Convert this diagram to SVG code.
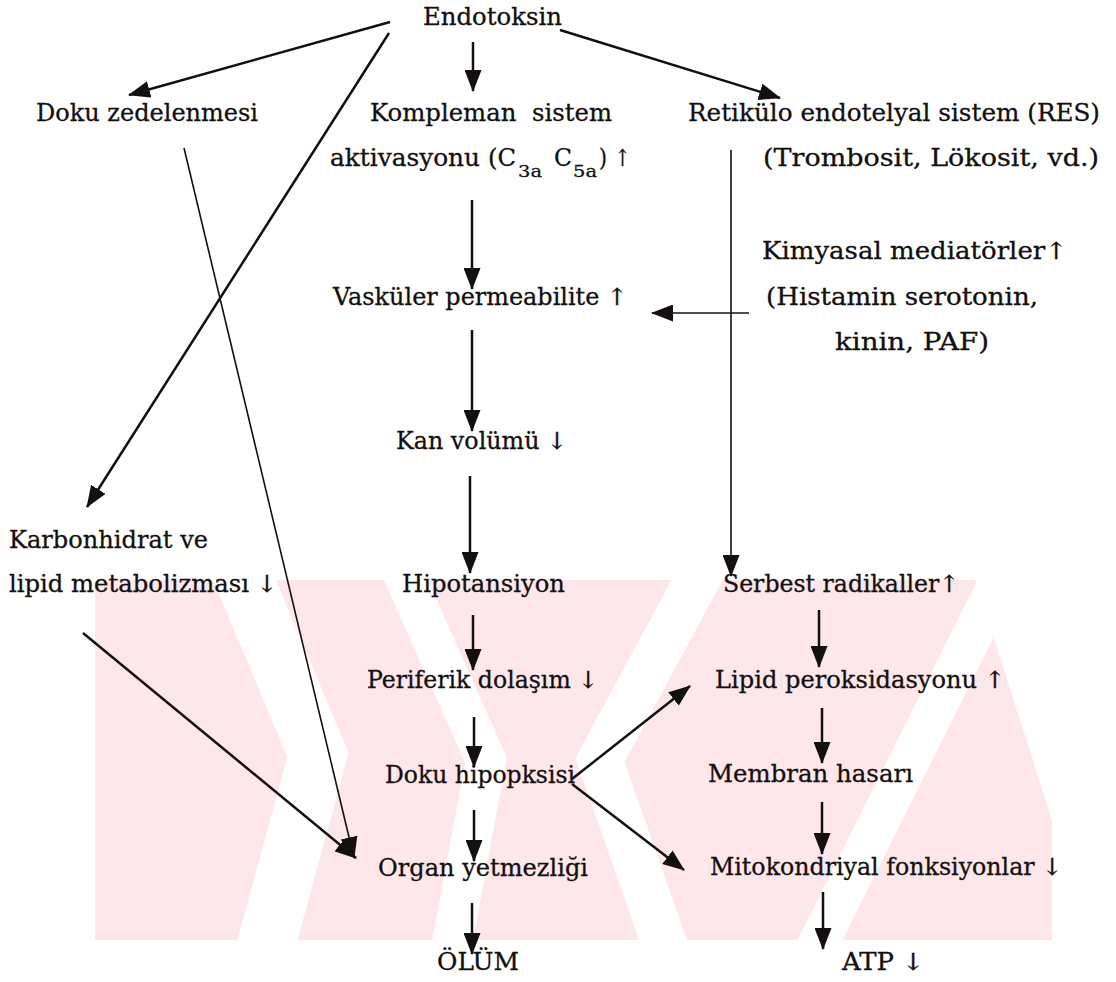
<svg xmlns="http://www.w3.org/2000/svg" width="1116" height="982" viewBox="0 0 1116 982">
<style>
  text { font-family: "DejaVu Serif", "Liberation Serif", serif; font-size: 23.5px; fill: #141010; stroke: #141010; stroke-width: 0.3; }
  .sub { font-size: 16px; }
  .c { stroke: #141010; stroke-width: 2.5; fill: none; marker-end: url(#ah); }
  .thin { stroke-width: 1.6; }
  .wm { fill: #fde7eb; }
  .wmw { stroke: #ffffff; fill: none; stroke-linejoin: miter; }
</style>
<defs>
  <marker id="ah" viewBox="0 0 22 17" refX="21" refY="8.5" markerWidth="22" markerHeight="17" markerUnits="userSpaceOnUse" orient="auto">
    <path d="M0,0 L22,8.5 L0,17 z" fill="#141010"/>
  </marker>
  <clipPath id="wmclip">
    <polygon points="95,580 975,580 1052,820 1052,940 95,940"/>
  </clipPath>
</defs>
<rect width="1116" height="982" fill="#ffffff"/>
<g id="watermark" clip-path="url(#wmclip)">
  <rect class="wm" x="95" y="580" width="960" height="360"/>
  <polyline class="wmw" stroke-width="58" points="236,560 318,755 262,960"/>
  <polyline class="wmw" stroke-width="40" points="397,560 486,760 449,960"/>
  <polyline class="wmw" stroke-width="45" points="708,560 600,760 670,960"/>
  <line class="wmw" stroke-width="40" x1="810" y1="960" x2="1010" y2="560"/>
</g>
<g id="connectors">
  <path class="c" d="M390,22 L129,95"/>
  <path class="c" d="M473,42 L473,91"/>
  <path class="c" d="M560,30 L780,98"/>
  <path class="c" d="M389,33 L87,507"/>
  <path class="c thin" d="M184,148 L354,858"/>
  <path class="c" d="M83,633 L356,858"/>
  <path class="c" d="M472,200 L472,289"/>
  <path class="c" d="M472,330 L472,431"/>
  <path class="c" d="M470,476 L470,573"/>
  <path class="c" d="M473,615 L473,670"/>
  <path class="c" d="M474,717 L474,767"/>
  <path class="c" d="M474,810 L474,861"/>
  <path class="c" d="M472,903 L472,954"/>
  <path class="c thin" d="M731,150 L731,576"/>
  <path class="c thin" d="M749,313 L652,313"/>
  <path class="c" d="M819,610 L819,667"/>
  <path class="c" d="M822,708 L822,763"/>
  <path class="c" d="M822,802 L822,854"/>
  <path class="c" d="M823,892 L823,949"/>
  <path class="c" d="M572,779 L690,686"/>
  <path class="c" d="M572,784 L684,870"/>
</g>
<g id="n-endotoksin"><text x="423" y="25" textLength="139" lengthAdjust="spacingAndGlyphs">Endotoksin</text></g>
<g id="n-doku-zedelenmesi"><text x="36" y="121" textLength="222" lengthAdjust="spacingAndGlyphs">Doku zedelenmesi</text></g>
<g id="n-kompleman">
  <text x="370" y="121" textLength="242" lengthAdjust="spacingAndGlyphs" xml:space="preserve">Kompleman  sistem</text>
  <text x="330" y="166" textLength="150" lengthAdjust="spacingAndGlyphs">aktivasyonu</text>
  <text x="488" y="166" textLength="28" lengthAdjust="spacingAndGlyphs">(C</text>
  <text class="sub" x="518" y="177" textLength="24" lengthAdjust="spacingAndGlyphs">3a</text>
  <text x="554" y="166" textLength="18" lengthAdjust="spacingAndGlyphs">C</text>
  <text class="sub" x="573" y="177" textLength="24" lengthAdjust="spacingAndGlyphs">5a</text>
  <text x="599" y="166" textLength="8" lengthAdjust="spacingAndGlyphs">)</text>
  <text x="615" y="166" textLength="15" lengthAdjust="spacingAndGlyphs">↑</text>
</g>
<g id="n-res">
  <text x="688" y="121" textLength="412" lengthAdjust="spacingAndGlyphs">Retikülo endotelyal sistem (RES)</text>
  <text x="763" y="166" textLength="336" lengthAdjust="spacingAndGlyphs">(Trombosit, Lökosit, vd.)</text>
</g>
<g id="n-kimyasal">
  <text x="762" y="259" textLength="305" lengthAdjust="spacingAndGlyphs">Kimyasal mediatörler↑</text>
  <text x="766" y="305" textLength="272" lengthAdjust="spacingAndGlyphs">(Histamin serotonin,</text>
  <text x="835" y="350" textLength="154" lengthAdjust="spacingAndGlyphs">kinin, PAF)</text>
</g>
<g id="n-vaskuler"><text x="333" y="305" textLength="294" lengthAdjust="spacingAndGlyphs">Vasküler permeabilite ↑</text></g>
<g id="n-kan"><text x="396" y="449" textLength="171" lengthAdjust="spacingAndGlyphs">Kan volümü ↓</text></g>
<g id="n-karbonhidrat">
  <text x="9" y="548" textLength="199" lengthAdjust="spacingAndGlyphs">Karbonhidrat ve</text>
  <text x="9" y="592" textLength="268" lengthAdjust="spacingAndGlyphs">lipid metabolizması ↓</text>
</g>
<g id="n-hipotansiyon"><text x="402" y="592" textLength="163" lengthAdjust="spacingAndGlyphs">Hipotansiyon</text></g>
<g id="n-serbest"><text x="723" y="592" textLength="236" lengthAdjust="spacingAndGlyphs">Serbest radikaller↑</text></g>
<g id="n-periferik"><text x="367" y="688" textLength="231" lengthAdjust="spacingAndGlyphs">Periferik dolaşım ↓</text></g>
<g id="n-lipid"><text x="715" y="688" textLength="290" lengthAdjust="spacingAndGlyphs">Lipid peroksidasyonu ↑</text></g>
<g id="n-doku-hipopksisi"><text x="385" y="783" textLength="190" lengthAdjust="spacingAndGlyphs">Doku hipopksisi</text></g>
<g id="n-membran"><text x="708" y="782" textLength="205" lengthAdjust="spacingAndGlyphs">Membran hasarı</text></g>
<g id="n-organ"><text x="378" y="876" textLength="210" lengthAdjust="spacingAndGlyphs">Organ yetmezliği</text></g>
<g id="n-mito"><text x="710" y="875" textLength="352" lengthAdjust="spacingAndGlyphs">Mitokondriyal fonksiyonlar ↓</text></g>
<g id="n-olum"><text x="437" y="970" textLength="82" lengthAdjust="spacingAndGlyphs">ÖLÜM</text></g>
<g id="n-atp"><text x="842" y="970" textLength="82" lengthAdjust="spacingAndGlyphs">ATP ↓</text></g>
</svg>
